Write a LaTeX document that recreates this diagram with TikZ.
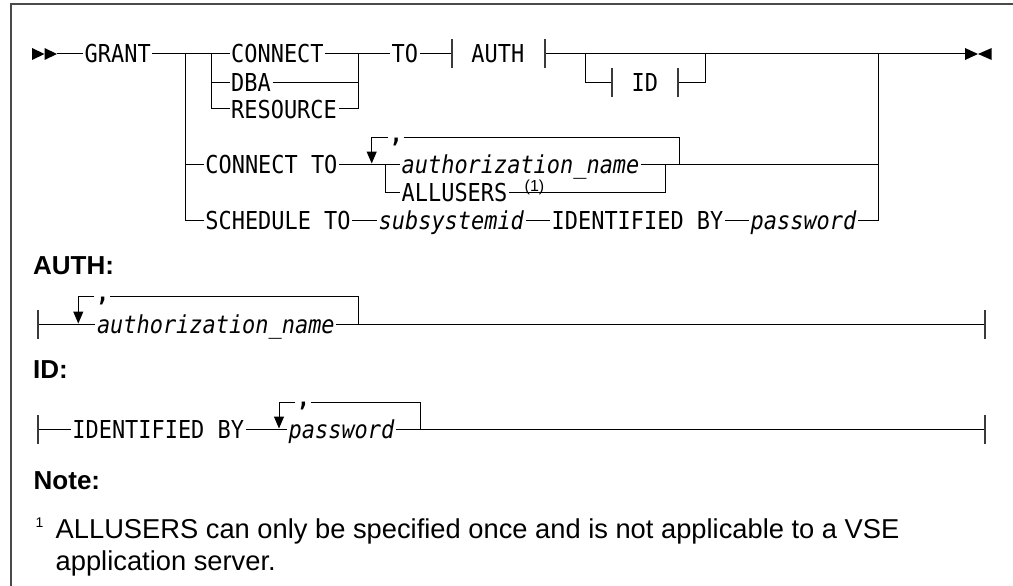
\documentclass[tikz,border=0pt]{standalone}
\usepackage{fontspec}
\setmainfont{Liberation Sans}
\newfontfamily\sdmono[FakeStretch=0.888]{DejaVu Sans Mono}
\usepackage{tikz}
\usetikzlibrary{arrows.meta}
\definecolor{sdInk}{HTML}{000000}
\definecolor{sdTick}{HTML}{3A3A3A}
\definecolor{sdFrame}{HTML}{4A4A4A}
\tikzset{
  sd diagram/.style={x=1pt, y=-1pt, text=sdInk, line join=miter},
  sd rail/.style={draw=sdInk, line width=1pt},
  sd loop/.style={sd rail, -{Triangle[length=12pt,width=10pt]}},
  sd tick/.style={draw=sdTick, line width=1.8pt},
  sd frame/.style={draw=sdFrame, line width=1.6pt},
  sd kw/.style={font={\sdmono\fontsize{24.7}{28}\selectfont}, anchor=west,
    inner xsep=1.5pt, inner ysep=0pt, text height=18pt, text depth=0pt},
  sd var/.style={sd kw, font={\sdmono\itshape\fontsize{24.7}{28}\selectfont}},
  sd comma/.style={font={\sdmono\bfseries\fontsize{24.7}{28}\selectfont},
    anchor=north, inner sep=0pt},
  sd head/.style={font={\bfseries\fontsize{26}{30}\selectfont},
    anchor=base west, inner sep=0pt},
  sd note/.style={font={\fontsize{27.3}{32}\selectfont},
    anchor=base west, inner sep=0pt},
  sd sup/.style={font={\fontsize{16}{18}\selectfont}, inner sep=0pt}
}

\begin{document}
\begin{tikzpicture}[sd diagram]
\useasboundingbox (0,0) rectangle (1013,586);
\draw[sd frame] (11,586) -- (11,4) -- (1013,4);

% main statement
\coordinate (start) at (57,54);
\coordinate (b1) at (185.7,54);
\coordinate (b2) at (211.7,54);
\coordinate (m1) at (358.3,54);
\coordinate (authL) at (451.7,54);
\coordinate (authR) at (545,54);
\coordinate (s1) at (585,54);
\coordinate (s2) at (705,54);
\coordinate (idL) at (611.7,83);
\coordinate (idR) at (678.3,83);
\coordinate (m2) at (878.3,54);
\coordinate (fin) at (965,54);
\coordinate (c1) at (385,164);
\coordinate (c2) at (665.4,164);
\coordinate (c3) at (679,164);
\coordinate (ca) at (371.7,163.5);
\coordinate (ct1) at (387.7,137.5);
\coordinate (ct2) at (403.7,137.5);

\node[sd kw] (grant) at (83,54) {GRANT};
\node[sd kw] (connect) at (229.5,54) {CONNECT};
\node[sd kw] (dba) at (229.5,83) {DBA};
\node[sd kw] (resource) at (229.5,109) {RESOURCE};
\node[sd kw] (kwto) at (390,54) {TO};
\node[sd kw] (authref) at (469.7,54) {AUTH};
\node[sd kw] (idref) at (630,83) {ID};
\node[sd kw] (conto) at (203.7,164) {CONNECT TO};
\node[sd var] (authname) at (400,164) {authorization\_name};
\node[sd kw] (allusers) at (400,192) {ALLUSERS};
\node[sd sup,anchor=base] (fnref) at (534.5,191.5) {(1)};
\node[sd kw] (schedto) at (203.7,220) {SCHEDULE TO};
\node[sd var] (subsys) at (377,220) {subsystemid};
\node[sd kw] (identby) at (550,220) {IDENTIFIED BY};
\node[sd var] (pwd) at (749,220) {password};

\fill[sdInk] (start) -- ++(-12.5,-6) -- ++(0,12) -- cycle;
\fill[sdInk] ([xshift=-12.5pt]start) -- ++(-12.5,-6) -- ++(0,12) -- cycle;
\draw[sd rail] (start) -- (grant);
\draw[sd rail] (grant) -- (connect);
\draw[sd rail] (connect) -- (kwto);
\draw[sd rail] (b2) |- (dba);
\draw[sd rail] (b2) |- (resource);
\draw[sd rail] (dba) -| (m1);
\draw[sd rail] (resource) -| (m1);
\draw[sd rail] (kwto) -- (authL);
\draw[sd rail] (authR) -- (fin);
\draw[sd rail] (s1) |- (idL);
\draw[sd rail] (idR) -| (s2);
\draw[sd rail] (b1) |- (conto);
\draw[sd rail] (b1) |- (schedto);
\draw[sd rail] (conto) -- (authname);
\draw[sd rail] (c1) |- (allusers);
\draw[sd rail] (allusers) -| (c2);
\draw[sd rail] (authname) -| (m2);
\draw[sd loop] (ct1) -| (ca);
\draw[sd rail] (ct2) -| (c3);
\draw[sd rail] (schedto) -- (subsys);
\draw[sd rail] (subsys) -- (identby);
\draw[sd rail] (identby) -- (pwd);
\draw[sd rail] (pwd) -| (m2);
\fill[sdInk] (fin) ++(0,-6) -- ++(13,6) -- ++(-13,6) -- cycle;
\fill[sdInk] (fin) ++(26.7,-6) -- ++(-13.7,6) -- ++(13.7,6) -- cycle;

% AUTH fragment
\node[sd head] (authhead) at (33,274) {AUTH:};
\coordinate (aL) at (38.3,324);
\coordinate (aa) at (78.3,323.5);
\coordinate (ar) at (358.3,324);
\coordinate (aE) at (985,324);
\coordinate (at1) at (94.3,296.7);
\coordinate (at2) at (110.3,296.7);
\node[sd var] (aname) at (95.3,324) {authorization\_name};
\draw[sd rail] (aL) -- (aname);
\draw[sd rail] (aname) -- (aE);
\draw[sd loop] (at1) -| (aa);
\draw[sd rail] (at2) -| (ar);

% ID fragment
\node[sd head] (idhead) at (33,378) {ID:};
\coordinate (iL) at (38.3,429);
\coordinate (ia) at (279,428.5);
\coordinate (ir) at (420,429);
\coordinate (iE) at (985,429);
\coordinate (it1) at (295,402);
\coordinate (it2) at (311,402);
\node[sd kw] (identby2) at (70.7,429) {IDENTIFIED BY};
\node[sd var] (pwd2) at (287,429) {password};
\draw[sd rail] (iL) -- (identby2);
\draw[sd rail] (identby2) -- (pwd2);
\draw[sd rail] (pwd2) -- (iE);
\draw[sd loop] (it1) -| (ia);
\draw[sd rail] (it2) -| (ir);

\foreach \n/\x/\y in {1/396.2/137.5,2/102.8/296.7,3/303.5/402}
  \node[sd comma] (cm\n) at (\x,\y) {,};
\foreach \t in {authL,authR,idL,idR,aL,aE,iL,iE}
  \draw[sd tick] ([yshift=-14.5pt]\t) -- ([yshift=14.5pt]\t);

% note
\node[sd head] (notehead) at (33.5,489) {Note:};
\node[sd sup,anchor=base west,font={\fontsize{14}{16}\selectfont}] (fnmark) at (35.5,527) {1};
\node[sd note] (fntext) at (55.5,538)
  {ALLUSERS can only be specified once and is not applicable to a VSE};
\node[sd note] (fntext2) at (55.5,570) {application server.};
\end{tikzpicture}
\end{document}
